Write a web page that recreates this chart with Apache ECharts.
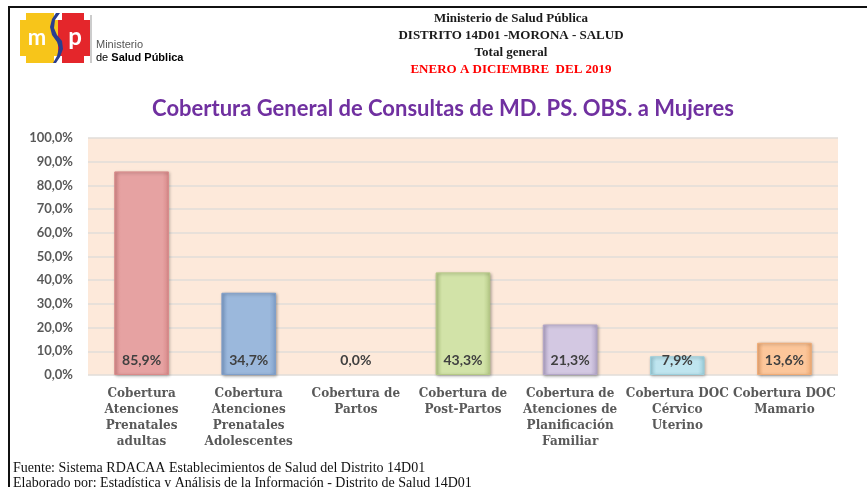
<!DOCTYPE html>
<html>
<head>
<meta charset="utf-8">
<script src="https://cdn.jsdelivr.net/npm/echarts@6/dist/echarts.min.js"></script>
<style>
  html, body { margin: 0; padding: 0; background: #fff; }
  #chart { width: 867px; height: 487px; }
</style>
</head>
<body>
<div id="chart"></div>
<script>
// categories and values
const categories = [
  'Cobertura\nAtenciones\nPrenatales\nadultas',
  'Cobertura\nAtenciones\nPrenatales\nAdolescentes',
  'Cobertura de\nPartos',
  'Cobertura de\nPost-Partos',
  'Cobertura de\nAtenciones de\nPlanificación\nFamiliar',
  'Cobertura DOC\nCérvico\nUterino',
  'Cobertura DOC\nMamario'
];
const coverage = [85.9, 34.7, 0.0, 43.3, 21.3, 7.9, 13.6];
const headerLines = [
  'Ministerio de Salud Pública',
  'DISTRITO 14D01 -MORONA - SALUD',
  'Total general',
  'ENERO A DICIEMBRE  DEL 2019'
];
const footerLines = [
  'Fuente: Sistema RDACAA Establecimientos de Salud del Distrito 14D01',
  'Elaborado por: Estadística y Análisis de la Información - Distrito de Salud 14D01'
];

// fill colours per bar [edge, centre]
const barColors = [
  ['#d98a8a', '#e6a2a2'],
  ['#7f9fca', '#9bb8dc'],
  ['#d98a8a', '#e6a2a2'],
  ['#b5c986', '#d2e3a8'],
  ['#b3a6c8', '#d3c8e2'],
  ['#9ccfdc', '#bfe5ef'],
  ['#f0ac76', '#fcc69a']
];

const chart = echarts.init(document.getElementById('chart'));
const serif = '"Liberation Serif", "DejaVu Serif", serif';
const labelSerif = '"DejaVu Serif", "Liberation Serif", serif';
const sans = 'Lato, "Open Sans", sans-serif';

function grad(c) {
  return new echarts.graphic.LinearGradient(0, 0, 1, 0, [
    { offset: 0, color: c[0] },
    { offset: 0.12, color: c[1] },
    { offset: 0.88, color: c[1] },
    { offset: 1, color: c[0] }
  ]);
}

const headerText = headerLines.map((t, i) => ({
  type: 'text',
  style: {
    x: 511, y: 12 + i * 17,
    text: t,
    textAlign: 'center',
    font: 'bold 13px ' + serif,
    fill: i === 3 ? '#ff0000' : '#1a1a1a'
  }
}));

const footerText = footerLines.map((t, i) => ({
  type: 'text',
  style: { x: 13, y: 461 + i * 15, text: t, font: '14px ' + serif, fill: '#111' }
}));

const logo = [
  // yellow stepped block
  { type: 'rect', shape: { x: 26, y: 13, width: 28, height: 50 }, style: { fill: '#f7c51a' } },
  { type: 'rect', shape: { x: 20, y: 20, width: 40, height: 36 }, style: { fill: '#f7c51a' } },
  // red stepped block
  { type: 'rect', shape: { x: 62, y: 13, width: 22, height: 50 }, style: { fill: '#e4262b' } },
  { type: 'rect', shape: { x: 58, y: 20, width: 32, height: 36 }, style: { fill: '#e4262b' } },
  // blue s-stripe
  { type: 'polygon', shape: { points: [[60, 13], [55, 20], [54, 28], [57, 35], [62, 41], [63, 49], [60, 57], [56, 63], [53, 63], [57, 56], [59, 48], [57, 42], [52, 35], [50, 27], [52, 19], [56, 13]] }, style: { fill: '#2a3e8f' } },
  { type: 'text', style: { x: 37, y: 38, text: 'm', textAlign: 'center', textVerticalAlign: 'middle', font: 'bold 22px ' + sans, fill: '#fff' } },
  { type: 'text', style: { x: 75, y: 37, text: 'p', textAlign: 'center', textVerticalAlign: 'middle', font: 'bold 24px ' + sans, fill: '#fff' } },
  { type: 'line', shape: { x1: 91, y1: 15, x2: 91, y2: 63 }, style: { stroke: '#999', lineWidth: 1 } },
  { type: 'text', style: { x: 96, y: 39, text: 'Ministerio', font: '11px "Liberation Sans", Arial, sans-serif', fill: '#555' } },
  {
    type: 'text',
    style: {
      x: 96, y: 52,
      text: '{a|de }{b|Salud Pública}',
      rich: {
        a: { fontFamily: '"Liberation Sans", Arial, sans-serif', fontSize: 11, color: '#555' },
        b: { fontFamily: '"Liberation Sans", Arial, sans-serif', fontSize: 11, fontWeight: 'bold', color: '#444' }
      }
    }
  }
];

const frame = [
  { type: 'line', shape: { x1: 8, y1: 7, x2: 867, y2: 7 }, style: { stroke: '#111', lineWidth: 2 } },
  { type: 'line', shape: { x1: 9, y1: 7, x2: 9, y2: 487 }, style: { stroke: '#111', lineWidth: 2 } }
];

chart.setOption({
  animation: false,
  backgroundColor: '#fff',
  title: {
    text: 'Cobertura General de Consultas de MD. PS. OBS. a Mujeres',
    left: 438,
    textAlign: 'center',
    top: 93,
    textStyle: { color: '#7030a0', fontFamily: sans, fontWeight: 'bold', fontSize: 22 }
  },
  grid: {
    left: 88, right: 29, top: 138, bottom: 112,
    show: true, backgroundColor: '#fde9da', borderWidth: 0
  },
  xAxis: {
    type: 'category',
    data: categories,
    axisLine: { show: false },
    axisTick: { show: false },
    axisLabel: {
      interval: 0,
      margin: 11,
      fontFamily: labelSerif,
      fontWeight: 'bold',
      fontSize: 12,
      lineHeight: 16,
      color: '#595959'
    }
  },
  yAxis: {
    type: 'value',
    min: 0, max: 100, interval: 10,
    axisLine: { show: false },
    axisTick: { show: false },
    splitLine: { lineStyle: { color: '#e0dcd8', width: 1.5 } },
    axisLabel: {
      margin: 15,
      fontFamily: sans,
      fontWeight: 'bold',
      fontSize: 13,
      color: '#595959',
      formatter: v => v.toFixed(1).replace('.', ',') + '%'
    }
  },
  series: [{
    type: 'bar',
    barWidth: '51%',
    data: coverage.map((v, i) => ({
      value: v,
      itemStyle: v > 0 ? {
        color: grad(barColors[i]),
        borderColor: barColors[i][0],
        borderWidth: 1,
        shadowColor: 'rgba(0,0,0,0.3)',
        shadowBlur: 3,
        shadowOffsetX: 1,
        shadowOffsetY: 1
      } : { color: 'transparent', borderWidth: 0 }
    })),
    label: {
      show: true,
      position: 'insideBottom',
      distance: 8,
      fontFamily: sans,
      fontWeight: 'bold',
      fontSize: 14,
      color: '#404040',
      formatter: p => p.value.toFixed(1).replace('.', ',') + '%'
    }
  }],
  graphic: frame.concat(logo, headerText, footerText)
});
</script>
</body>
</html>
